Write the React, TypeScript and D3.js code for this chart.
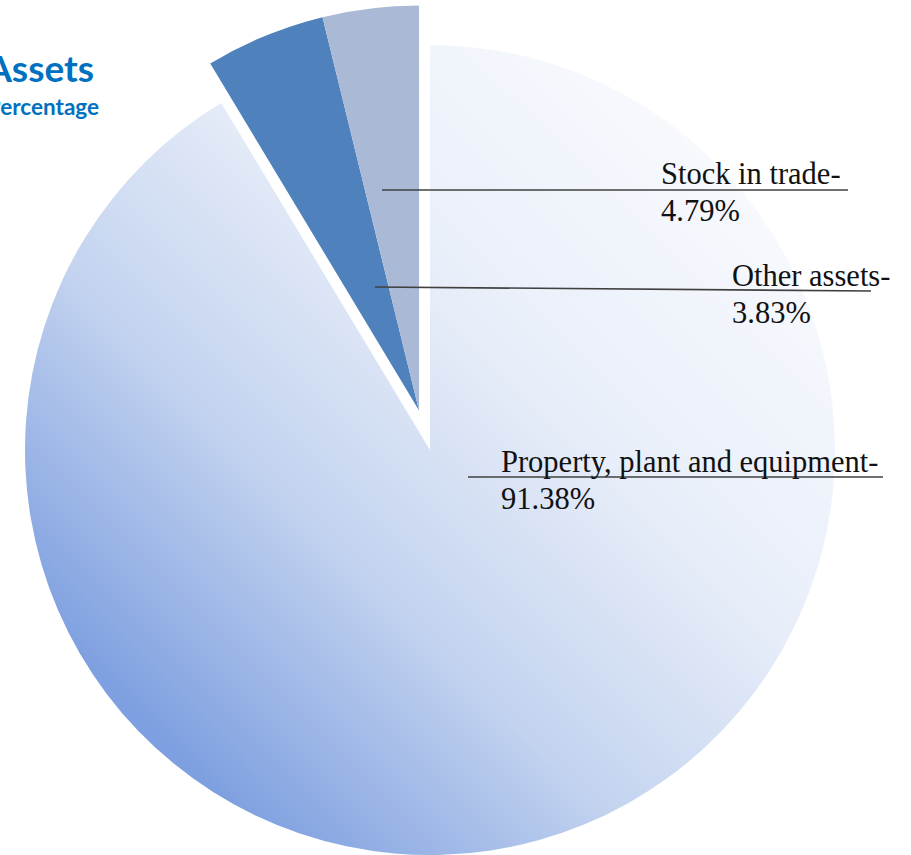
import React from "react";
import * as d3 from "d3";

const categories = ["Property, plant and equipment", "Stock in trade", "Other assets"];
const values = [91.38, 4.79, 3.83];
const valueLabels = ["91.38%", "4.79%", "3.83%"];
const sliceColors = ["url(#mainGrad)", "#4F81BD", "#AAB9D6"];
const explodedIdx = [1, 2];

const W = 911;
const H = 855;
const cx = 430;
const cy = 450;
const R = 405;
const explodeDist = 41;

// label layout: text x, first baseline, leader line start/end
const labelLayout = [
  { tx: 501, ty: 472, lx1: 468, ly1: 477, lx2: 883, ly2: 477 },
  { tx: 661, ty: 184, lx1: 382, ly1: 190, lx2: 848, ly2: 190 },
  { tx: 732, ty: 286, lx1: 375, ly1: 287, lx2: 871, ly2: 291 },
];

export default function App() {
  const pie = d3.pie<number>().sort(null).startAngle(0).endAngle(2 * Math.PI);
  const arcs = pie(values);
  const arcGen = d3.arc<d3.PieArcDatum<number>>().innerRadius(0).outerRadius(R);

  const exA = arcs[explodedIdx[0]].startAngle;
  const exB = arcs[explodedIdx[explodedIdx.length - 1]].endAngle;
  const mid = (exA + exB) / 2;
  const ox = Math.sin(mid) * explodeDist;
  const oy = -Math.cos(mid) * explodeDist;

  return (
    <svg
      width={W}
      height={H}
      style={{ position: "absolute", left: 0, top: 0, display: "block" }}
    >
      <defs>
        <linearGradient
          id="mainGrad"
          gradientUnits="userSpaceOnUse"
          x1={cx - R}
          y1={cy + R}
          x2={cx + R}
          y2={cy - R}
        >
          <stop offset="0" stopColor="#6a91da" />
          <stop offset="0.17" stopColor="#7fa0e0" />
          <stop offset="0.4" stopColor="#c3d3ef" />
          <stop offset="0.62" stopColor="#e8eef9" />
          <stop offset="1" stopColor="#ffffff" />
        </linearGradient>
      </defs>
      <rect width={W} height={H} fill="#ffffff" />
      {arcs.map((a, i) => {
        const ex = explodedIdx.includes(i);
        return (
          <path
            key={categories[i]}
            d={arcGen(a) || ""}
            transform={`translate(${cx + (ex ? ox : 0)},${cy + (ex ? oy : 0)})`}
            fill={sliceColors[i]}
          />
        );
      })}
      <text
        x={94}
        y={82}
        textAnchor="end"
        fontFamily="Lato"
        fontWeight="bold"
        fontSize={37}
        fill="#0070C0"
      >
        Assets
      </text>
      <text
        x={99}
        y={115}
        textAnchor="end"
        fontFamily="Lato"
        fontWeight="bold"
        fontSize={22.5}
        fill="#0070C0"
      >
        Percentage
      </text>
      {categories.map((c, i) => {
        const L = labelLayout[i];
        return (
          <g key={"lbl" + i}>
            <line
              x1={L.lx1}
              y1={L.ly1}
              x2={L.lx2}
              y2={L.ly2}
              stroke="#404040"
              strokeWidth={1.6}
            />
            <text
              x={L.tx}
              y={L.ty}
              fontFamily="Liberation Serif"
              fontSize={30.5}
              fill="#111"
            >
              {c + "-"}
            </text>
            <text
              x={L.tx}
              y={L.ty + 37}
              fontFamily="Liberation Serif"
              fontSize={30.5}
              fill="#111"
            >
              {valueLabels[i]}
            </text>
          </g>
        );
      })}
    </svg>
  );
}
